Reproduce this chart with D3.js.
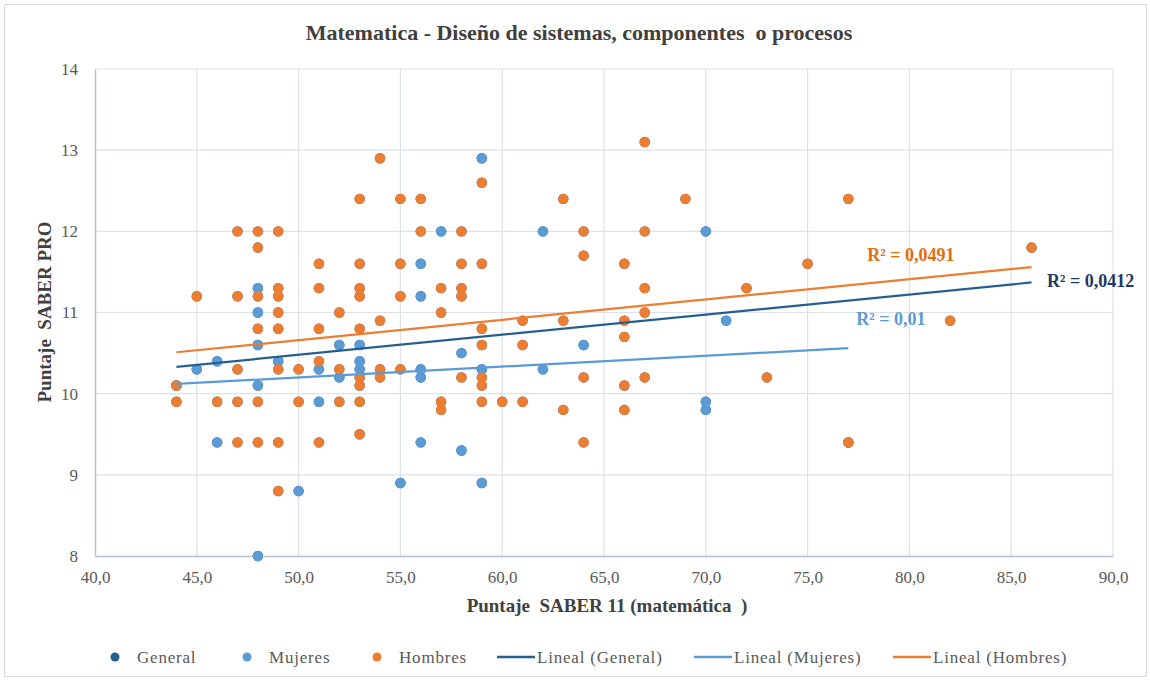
<!DOCTYPE html>
<html>
<head>
<meta charset="utf-8">
<script src="https://cdn.jsdelivr.net/npm/d3@7"></script>
<style>
  body { margin: 0; background: #fff; }
  text { font-family: "Liberation Serif", "Times New Roman", serif; white-space: pre; }
</style>
</head>
<body>
<svg id="chart" width="1150" height="681"></svg>
<script>
// Data: [puntaje SABER 11, puntaje SABER PRO]
const mujeres = [
  [44, 10.1], [45, 10.3], [46, 10.4], [46, 9.4],
  [48, 11.3], [48, 11.0], [48, 10.6], [48, 10.1], [48, 8.0],
  [49, 10.4], [50, 8.8], [51, 10.3], [51, 9.9],
  [52, 10.6], [52, 10.2], [53, 10.6], [53, 10.4], [53, 10.3],
  [55, 8.9], [56, 11.6], [56, 11.2], [56, 10.3], [56, 10.2], [56, 9.4],
  [57, 12.0], [58, 10.5], [58, 9.3], [59, 12.9], [59, 10.3], [59, 8.9],
  [62, 12.0], [62, 10.3], [64, 10.6], [70, 12.0], [70, 9.9], [70, 9.8],
  [71, 10.9], [77, 9.4]
]
const hombres = [
  [44, 10.1], [44, 9.9], [45, 11.2], [46, 9.9],
  [47, 12.0], [47, 11.2], [47, 10.3], [47, 9.9], [47, 9.4],
  [48, 12.0], [48, 11.8], [48, 11.2], [48, 10.8], [48, 9.9], [48, 9.4],
  [49, 12.0], [49, 11.3], [49, 11.2], [49, 11.0], [49, 10.8], [49, 10.3], [49, 9.4], [49, 8.8],
  [50, 10.3], [50, 9.9],
  [51, 11.6], [51, 11.3], [51, 10.8], [51, 10.4], [51, 9.4],
  [52, 11.0], [52, 10.3], [52, 9.9],
  [53, 12.4], [53, 11.6], [53, 11.3], [53, 11.2], [53, 10.8], [53, 10.2], [53, 10.1], [53, 9.9], [53, 9.5],
  [54, 12.9], [54, 10.9], [54, 10.3], [54, 10.2],
  [55, 12.4], [55, 11.6], [55, 11.2], [55, 10.3],
  [56, 12.4], [56, 12.0],
  [57, 11.3], [57, 11.0], [57, 9.9], [57, 9.8],
  [58, 12.0], [58, 11.6], [58, 11.3], [58, 11.2], [58, 10.2],
  [59, 12.6], [59, 11.6], [59, 10.8], [59, 10.6], [59, 10.2], [59, 10.1], [59, 9.9],
  [60, 9.9], [61, 10.9], [61, 10.6], [61, 9.9],
  [63, 12.4], [63, 10.9], [63, 9.8],
  [64, 12.0], [64, 11.7], [64, 10.2], [64, 9.4],
  [66, 11.6], [66, 10.9], [66, 10.7], [66, 10.1], [66, 9.8],
  [67, 13.1], [67, 12.0], [67, 11.3], [67, 11.0], [67, 10.2],
  [69, 12.4], [72, 11.3], [73, 10.2], [75, 11.6], [77, 12.4], [77, 9.4],
  [82, 10.9], [86, 11.8]
]
const general = mujeres.concat(hombres)

// trend lines: [x start, y start, x end, y end]
const trendGeneral = [44, 10.33, 86, 11.37]
const trendMujeres = [44, 10.12, 77, 10.56]
const trendHombres = [44, 10.51, 86, 11.56]

const xTicks = [40, 45, 50, 55, 60, 65, 70, 75, 80, 85, 90]
const yTicks = [8, 9, 10, 11, 12, 13, 14]

const cGeneral = '#255e91'
const cMujeres = '#5b9bd5'
const cHombres = '#ed7d31'

const svg = d3.select('#chart')
const pLeft = 95, pRight = 1113, pTop = 69, pBottom = 556

const x = d3.scaleLinear().domain([40, 90]).range([pLeft, pRight])
const y = d3.scaleLinear().domain([8, 14]).range([pBottom, pTop])

// chart frame
svg.append('rect')
  .attr('x', 4.5).attr('y', 4.5)
  .attr('width', 1142).attr('height', 672)
  .attr('fill', '#fff').attr('stroke', '#d9d9d9')

svg.append('text')
  .attr('x', 579).attr('y', 40)
  .attr('text-anchor', 'middle')
  .attr('font-size', 22).attr('font-weight', 'bold')
  .attr('fill', '#404040')
  .text('Matematica - Diseño de sistemas, componentes  o procesos')

// gridlines
svg.append('g').selectAll('line')
  .data(xTicks.slice(1))
  .join('line')
  .attr('x1', d => x(d)).attr('x2', d => x(d))
  .attr('y1', pTop).attr('y2', pBottom)
  .attr('stroke', '#dde2ea').attr('stroke-width', 1.2)
svg.append('g').selectAll('line')
  .data(yTicks.slice(1))
  .join('line')
  .attr('x1', pLeft).attr('x2', pRight)
  .attr('y1', d => y(d)).attr('y2', d => y(d))
  .attr('stroke', '#dde2ea').attr('stroke-width', 1.2)

// axes
const fmt = d => d.toFixed(1).replace('.', ',')
const xAxis = svg.append('g')
  .attr('transform', `translate(0,${pBottom})`)
  .call(d3.axisBottom(x).tickValues(xTicks).tickFormat(fmt).tickSize(0).tickPadding(15))
const yAxis = svg.append('g')
  .attr('transform', `translate(${pLeft},0)`)
  .call(d3.axisLeft(y).tickValues(yTicks).tickFormat(d3.format('d')).tickSize(0).tickPadding(17))
;[xAxis, yAxis].forEach(g => {
  g.select('.domain').attr('stroke', '#b4c0d3').attr('stroke-width', 1.5)
  g.selectAll('text')
    .attr('font-family', '"Liberation Serif", serif')
    .attr('font-size', 17).attr('fill', '#595959')
})

svg.append('text')
  .attr('x', 607).attr('y', 612)
  .attr('text-anchor', 'middle')
  .attr('font-size', 19).attr('font-weight', 'bold').attr('fill', '#404040')
  .text('Puntaje  SABER 11 (matemática  )')
svg.append('text')
  .attr('transform', 'translate(51,312) rotate(-90)')
  .attr('text-anchor', 'middle')
  .attr('font-size', 19).attr('font-weight', 'bold').attr('fill', '#404040')
  .text('Puntaje  SABER PRO')

// points, general first so the two groups sit on top
function dots(data, color) {
  svg.append('g').selectAll('circle')
    .data(data)
    .join('circle')
    .attr('cx', d => x(d[0]))
    .attr('cy', d => y(d[1]))
    .attr('r', 5.2)
    .attr('fill', color)
}
dots(general, cGeneral)
dots(mujeres, cMujeres)
dots(hombres, cHombres)

// trend lines
function trend(t, color) {
  svg.append('line')
    .attr('x1', x(t[0])).attr('y1', y(t[1]))
    .attr('x2', x(t[2])).attr('y2', y(t[3]))
    .attr('stroke', color).attr('stroke-width', 2.2)
}
trend(trendGeneral, cGeneral)
trend(trendMujeres, cMujeres)
trend(trendHombres, cHombres)

// R² labels
const labels = [
  { t: 'R² = 0,0491', x: 77.93, y: 11.71, c: '#e46c0a' },
  { t: 'R² = 0,0412', x: 86.76, y: 11.39, c: '#1f3864' },
  { t: 'R² = 0,01', x: 77.39, y: 10.92, c: '#5b9bd5' }
]
svg.append('g').selectAll('text')
  .data(labels)
  .join('text')
  .attr('x', d => x(d.x)).attr('y', d => y(d.y))
  .attr('dy', '0.35em')
  .attr('font-size', 18).attr('font-weight', 'bold')
  .attr('fill', d => d.c)
  .text(d => d.t)

// legend
const legendItems = [
  { name: 'General', c: cGeneral, type: 'dot', x: 115 },
  { name: 'Mujeres', c: cMujeres, type: 'dot', x: 247 },
  { name: 'Hombres', c: cHombres, type: 'dot', x: 377 },
  { name: 'Lineal (General)', c: cGeneral, type: 'line', x: 497 },
  { name: 'Lineal (Mujeres)', c: cMujeres, type: 'line', x: 694 },
  { name: 'Lineal (Hombres)', c: cHombres, type: 'line', x: 893 }
]
const lg = svg.append('g').selectAll('g')
  .data(legendItems)
  .join('g')
  .attr('transform', d => `translate(${d.x},657)`)
lg.filter(d => d.type === 'dot').append('circle')
  .attr('r', 4.5).attr('fill', d => d.c)
lg.filter(d => d.type === 'line').append('line')
  .attr('x1', 0).attr('x2', 38)
  .attr('stroke', d => d.c).attr('stroke-width', 2.5)
lg.append('text')
  .attr('x', d => d.type === 'dot' ? 22 : 40)
  .attr('dy', '0.35em')
  .attr('font-size', 17).attr('letter-spacing', 0.8).attr('fill', '#595959')
  .text(d => d.name)
</script>
</body>
</html>
